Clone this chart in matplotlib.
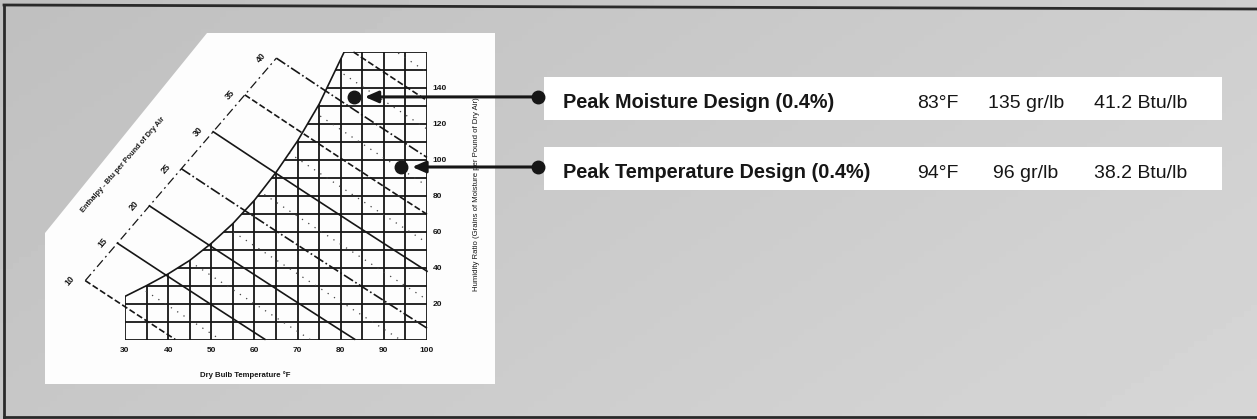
import matplotlib.pyplot as plt
import numpy as np
from matplotlib import font_manager
from matplotlib.patches import Polygon, Rectangle
from matplotlib.transforms import blended_transform_factory

# saturation curve (dry bulb F, grains per lb)
sat_temp = [30, 35, 40, 45, 50, 55, 60, 65, 70, 75, 80, 80.8]
sat_grains = [24, 30, 36.5, 44, 53.5, 64.5, 77.5, 93, 110.5, 131, 156, 160]

# enthalpy lines (Btu/lb)
enthalpy_major = [10, 15, 20, 25, 30, 35, 40, 45]
enthalpy_minor = [12.5, 17.5, 22.5, 27.5, 32.5, 37.5, 42.5, 47.5]
scale_labels = [10, 15, 20, 25, 30, 35, 40]
# ends of the enthalpy scale (dry bulb F, grains)
scale_start = (20.3, 31.4)
scale_end = (64.3, 154.4)

x_ticks = [30, 40, 50, 60, 70, 80, 90, 100]
y_ticks = [20, 40, 60, 80, 100, 120, 140]

design_names = ["Peak Moisture Design (0.4%)", "Peak Temperature Design (0.4%)"]
design_temp = [83, 94]
design_grains = [135, 96]
design_enthalpy = [41.2, 38.2]

major_styles = ["--", "-", "-", "-.", "-", "--", "-.", "--"]

plt.rcParams["font.family"] = ["Liberation Sans", "DejaVu Sans"]
names = {f.name for f in font_manager.fontManager.ttflist}
if "Liberation Sans Narrow" in names:
    box_family = ["Liberation Sans Narrow", "DejaVu Sans"]
    title_size, value_size = 17, 17
else:
    box_family = ["Liberation Sans", "DejaVu Sans"]
    title_size, value_size = 14.3, 14

ink = "#161616"


def grains_at(h, t):
    t = np.asarray(t, dtype=float)
    return 7000 * (h - 0.24 * t) / (1061 + 0.444 * t)


def enthalpy(t, w):
    return 0.24 * t + w / 7000 * (1061 + 0.444 * t)


fig = plt.figure(figsize=(12.57, 4.19), dpi=100)

# page background, in image pixels
bg = fig.add_axes([0, 0, 1, 1])
bg.set_xlim(0, 1257)
bg.set_ylim(419, 0)
bg.axis("off")
gx, gy = np.meshgrid(np.linspace(0, 1, 200), np.linspace(0, 1, 70))
shade = 0.75 + 0.06 * gx + 0.03 * gy
bg.imshow(shade, extent=(0, 1257, 419, 0), cmap="gray", vmin=0, vmax=1,
          aspect="auto", zorder=0)
bg.plot([4, 1257], [5, 9], color="#2a2a2a", lw=2, zorder=1)
bg.plot([4, 4], [5, 417], color="#2a2a2a", lw=2, zorder=1)
bg.plot([4, 1257], [417, 417], color="#2a2a2a", lw=2, zorder=1)

card = Polygon([(45, 233), (207, 33), (495, 33), (495, 384), (45, 384)],
               closed=True, fc="#fdfdfd", ec="none", zorder=1)
bg.add_patch(card)

# psychrometric chart
ax = fig.add_axes([125 / 1257, (419 - 339.5) / 419, 302 / 1257, 287.5 / 419])
ax.set_xlim(30, 100)
ax.set_ylim(0, 160)
ax.patch.set_alpha(0)
for s in ax.spines.values():
    s.set_visible(False)
ax.set_xticks(x_ticks)
ax.set_yticks(y_ticks)
ax.yaxis.tick_right()
ax.tick_params(axis="x", length=0, labelsize=6, pad=5.5, labelcolor=ink)
ax.tick_params(axis="y", length=0, labelsize=6, pad=4, labelcolor=ink)
for lab in ax.get_xticklabels() + ax.get_yticklabels():
    lab.set_fontweight("bold")

clip = Polygon([(29.5, -2), (29.5, sat_grains[0])]
               + list(zip(sat_temp, sat_grains))
               + [(sat_temp[-1] + 0.1, 161.5), (101, 161.5), (101, -2)],
               closed=True, fill=False, ec="none")
ax.add_patch(clip)

for t in range(30, 101, 5):
    ln, = ax.plot([t, t], [0, 160], color=ink, lw=1.3, zorder=2)
    ln.set_clip_path(clip)
for w in range(0, 161, 10):
    ln, = ax.plot([30, 100], [w, w], color=ink, lw=1.3, zorder=2)
    ln.set_clip_path(clip)
ax.plot(sat_temp, sat_grains, color=ink, lw=1.2, zorder=3)

# minor (dotted) enthalpy lines inside the grid
tt = np.linspace(29, 101, 400)
for h in enthalpy_minor:
    ww = grains_at(h, tt)
    ln, = ax.plot(tt, ww, color="#444444", lw=0.9, ls=(0, (1, 5)), zorder=2)
    ln.set_clip_path(clip)

# enthalpy scale line
s = np.linspace(-0.2, 1.2, 3001)
st = scale_start[0] + s * (scale_end[0] - scale_start[0])
sw = scale_start[1] + s * (scale_end[1] - scale_start[1])
sh = enthalpy(st, sw)
scale_t = np.interp(scale_labels, sh, st)
scale_w = np.interp(scale_labels, sh, sw)
ax.plot([scale_t[0], scale_t[-1]], [scale_w[0], scale_w[-1]], color=ink,
        lw=0.9, ls=(0, (7, 3, 1.5, 3)), clip_on=False, zorder=3)
for h, t0, w0 in zip(scale_labels, scale_t, scale_w):
    ax.annotate(str(h), xy=(t0, w0), xytext=(-15, 0),
                textcoords="offset pixels", rotation=49, ha="center",
                va="center", fontsize=6.3, fontweight="bold", color=ink,
                annotation_clip=False)

# major enthalpy lines
for h, style in zip(enthalpy_major, major_styles):
    if h in scale_labels:
        t_start = scale_t[scale_labels.index(h)]
    else:
        t_start = 20
    tt = np.linspace(t_start, 100, 400)
    ww = grains_at(h, tt)
    keep = (ww >= 0) & (ww <= 160)
    ax.plot(tt[keep], ww[keep], color=ink, lw=1.2, ls=style,
            clip_on=False, zorder=4)

# design points with connectors
ax.plot(design_temp, design_grains, "o", ms=9, color=ink, zorder=6,
        clip_on=False)
link = blended_transform_factory(bg.transData, ax.transData)
pts = bg.transData.inverted().transform(
    ax.transData.transform(np.column_stack([design_temp, design_grains])))
for i in range(len(design_names)):
    ax.annotate("", xy=(design_temp[i], design_grains[i]), xycoords="data",
                xytext=(538, design_grains[i]), textcoords=link,
                arrowprops=dict(arrowstyle="-|>,head_length=0.8,head_width=0.35",
                                lw=2.2, color=ink, shrinkA=0, shrinkB=8,
                                mutation_scale=10),
                annotation_clip=False, zorder=5)
    bg.plot([538], [pts[i, 1]], "o", ms=9, color=ink, zorder=3)
    y = pts[i, 1]
    bg.add_patch(Rectangle((544, y - 20), 678, 43, fc="white", ec="none",
                           zorder=2))
    bg.text(563, y + 11, design_names[i], fontsize=title_size,
            fontweight="bold", family=box_family, color=ink, ha="left",
            va="baseline", zorder=3)
    bg.text(938, y + 11, f"{design_temp[i]}°F", fontsize=value_size,
            family=box_family, color=ink, ha="center", va="baseline", zorder=3)
    bg.text(1026, y + 11, f"{design_grains[i]} gr/lb", fontsize=value_size,
            family=box_family, color=ink, ha="center", va="baseline", zorder=3)
    bg.text(1141, y + 11, f"{design_enthalpy[i]} Btu/lb", fontsize=value_size,
            family=box_family, color=ink, ha="center", va="baseline", zorder=3)

# axis titles
bg.text(123, 165, "Enthalpy - Btu per Pound of Dry Air", rotation=49,
        rotation_mode="anchor", ha="center", va="center", fontsize=5.3,
        fontweight="bold", color=ink, zorder=3)
bg.text(245, 375, "Dry Bulb Temperature °F", ha="center", va="center",
        fontsize=5.6, fontweight="bold", color=ink, zorder=3)
bg.text(477, 194, "Humidity Ratio (Grains of Moisture per Pound of Dry Air)",
        rotation=90, ha="center", va="center", fontsize=5.6, color=ink,
        zorder=3)

fig.savefig("out.png", dpi=100)
